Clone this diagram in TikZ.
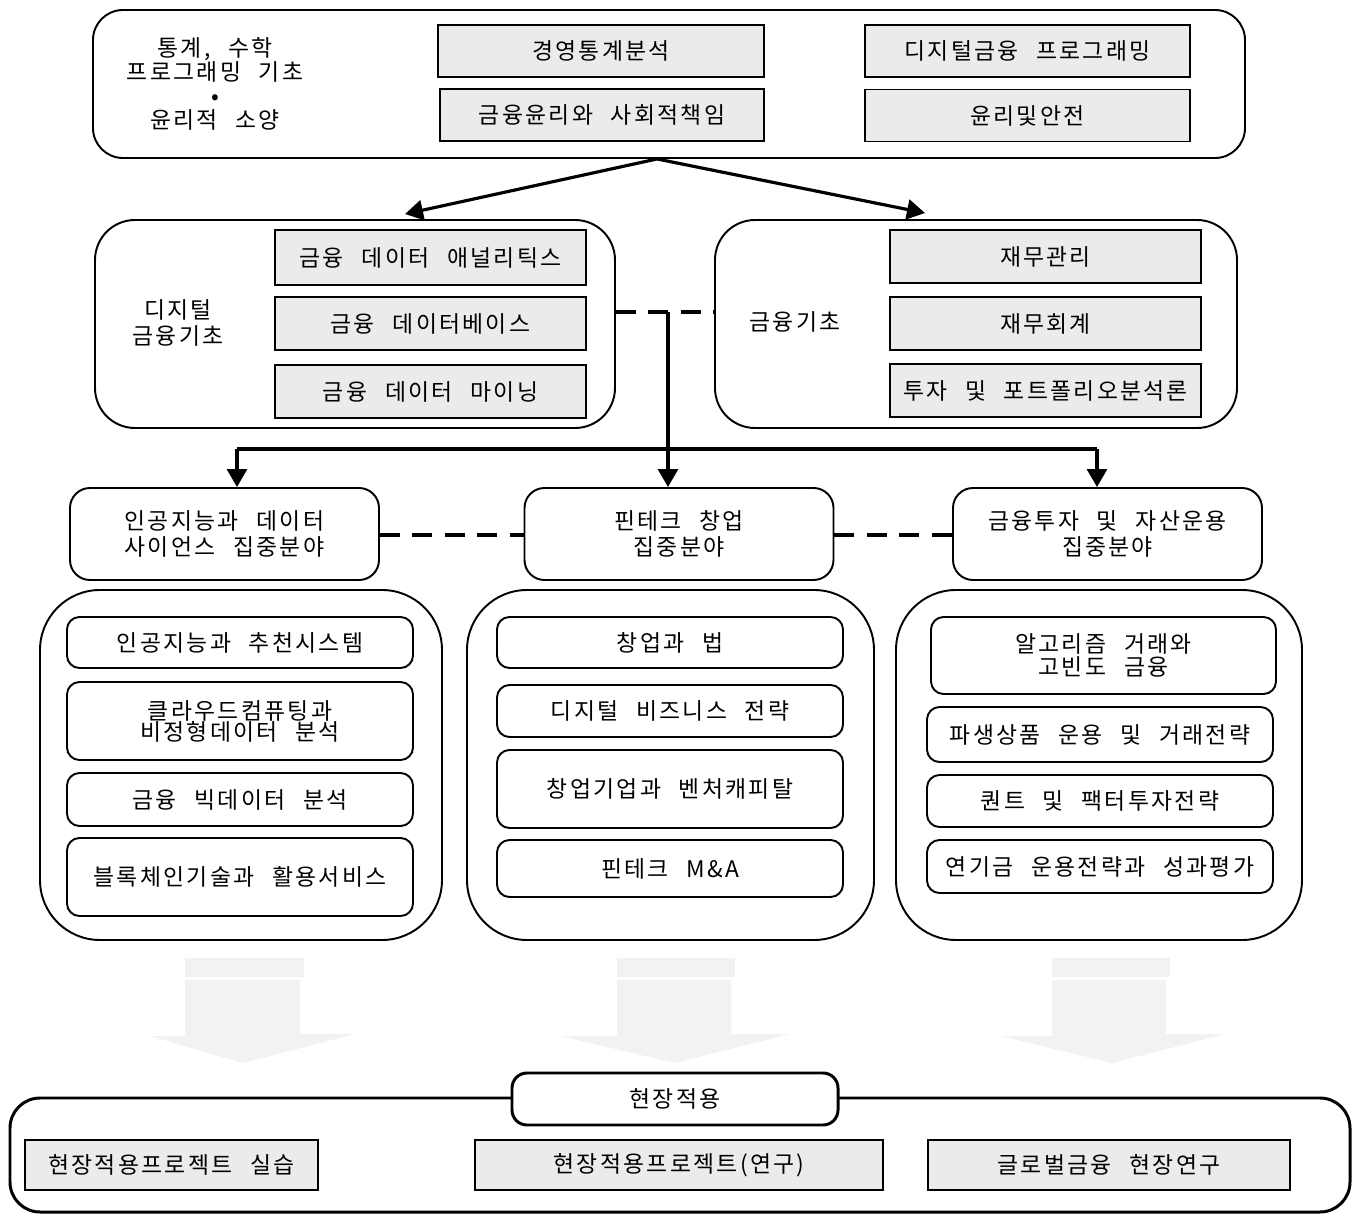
\documentclass[tikz,border=0pt]{standalone}
\usepackage{fontspec}
\setmainfont{Noto Sans CJK KR}[WordSpace=2.4, LetterSpace=10]
\usetikzlibrary{calc, positioning, arrows.meta}

\begin{document}
\begin{tikzpicture}[
    every node/.style={font=\fontsize{13}{14.5}\selectfont, align=center},
    subj/.style={draw, fill=gray!16, line width=1.1pt, minimum height=1.04cm},
    group/.style={draw, rounded corners=0.8cm, line width=1.1pt},
    field/.style={draw, rounded corners=0.4cm, line width=1.1pt, minimum width=6.18cm, minimum height=1.84cm},
    course/.style={draw, rounded corners=0.25cm, line width=1.1pt, minimum width=6.92cm},
    link/.style={line width=1.8pt, -{Triangle[length=0.36cm,width=0.4cm]}},
    tie/.style={line width=1.8pt, dash pattern=on 0.4cm off 0.25cm},
    hint/.style={fill=gray!10}
]
\useasboundingbox (0,0) rectangle (27.18,-24.28);

% basics
\node[group, rounded corners=0.6cm, minimum width=23.04cm, minimum height=2.96cm] (base) at (13.38,-1.68) {};
\node[font=\fontsize{13}{13.6}\selectfont] (basetxt) at (4.3,-1.68) {통계, 수학\\프로그래밍 기초\\•\\윤리적 소양};
\node[subj, minimum width=6.52cm] (stat) at (12.02,-1.02) {경영통계분석};
\node[subj, minimum width=6.48cm] (ethic) at (12.04,-2.30) {금융윤리와 사회적책임};
\node[subj, minimum width=6.5cm] (dprog) at (20.55,-1.02) {디지털금융 프로그래밍};
\node[subj, minimum width=6.5cm] (safe) at (20.55,-2.31) {윤리및안전};

% foundations
\node[group, minimum width=10.4cm, minimum height=4.16cm] (dfin) at (7.1,-6.48) {};
\node (dfintxt) at (3.56,-6.46) {디지털\\금융기초};
\node[subj, minimum width=6.22cm, minimum height=1.1cm] (anal) at (8.61,-5.15) {금융 데이터 애널리틱스};
\node[subj, minimum width=6.22cm, minimum height=1.06cm] (dbase) at (8.61,-6.47) {금융 데이터베이스};
\node[subj, minimum width=6.22cm, minimum height=1.06cm] (mine) at (8.61,-7.83) {금융 데이터 마이닝};

\node[group, minimum width=10.44cm, minimum height=4.16cm] (fin) at (19.52,-6.48) {};
\node (fintxt) at (15.9,-6.44) {금융기초};
\node[subj, minimum width=6.22cm, minimum height=1.06cm] (fmgmt) at (20.91,-5.13) {재무관리};
\node[subj, minimum width=6.22cm, minimum height=1.06cm] (facct) at (20.91,-6.47) {재무회계};
\node[subj, minimum width=6.22cm, minimum height=1.06cm] (port) at (20.91,-7.81) {투자 및 포트폴리오분석론};

\draw[link] ([xshift=-0.24cm]base.south) -- ([xshift=1cm,yshift=0.1cm]dfin.north);
\draw[link] ([xshift=-0.24cm]base.south) -- ([xshift=-1.02cm,yshift=0.12cm]fin.north);

% fields
\node[field] (aif) at (4.49,-10.68) {인공지능과 데이터\\사이언스 집중분야};
\node[field] (fint) at (13.58,-10.68) {핀테크 창업\\집중분야};
\node[field] (invf) at (22.15,-10.68) {금융투자 및 자산운용\\집중분야};

\coordinate (hub) at (13.36,-6.24);
\coordinate (busl) at (4.74,-8.98);
\coordinate (busr) at (21.94,-8.98);
\draw[tie] (dfin.east |- hub) -- (fin.west |- hub);
\draw[line width=1.8pt] (busl) -- (busr);
\draw[link] (hub) -- (hub |- fint.north);
\draw[link] (busl) -- (busl |- aif.north);
\draw[link] (busr) -- (busr |- invf.north);
\draw[tie] ([yshift=-0.02cm]aif.east) -- ([yshift=-0.02cm]fint.west);
\draw[tie] ([yshift=-0.02cm]fint.east) -- ([yshift=-0.02cm]invf.west);

% courses
\node[group, rounded corners=1.2cm, minimum width=8.04cm, minimum height=7cm] (aigrp) at (4.82,-15.3) {};
\node[group, rounded corners=1.2cm, minimum width=8.14cm, minimum height=7cm] (fingrp) at (13.41,-15.3) {};
\node[group, rounded corners=1.2cm, minimum width=8.12cm, minimum height=7cm] (invgrp) at (21.98,-15.3) {};

\node[course, minimum height=1.02cm] (rec) at (4.8,-12.85) {인공지능과 추천시스템};
\node[course, minimum height=1.56cm, font=\fontsize{13}{12}\selectfont] (cloud) at (4.8,-14.42) {클라우드컴퓨팅과\\비정형데이터 분석};
\node[course, minimum height=1.06cm] (bigd) at (4.8,-15.99) {금융 빅데이터 분석};
\node[course, minimum height=1.56cm] (chain) at (4.8,-17.54) {블록체인기술과 활용서비스};

\node[course, minimum height=1.02cm] (law) at (13.4,-12.85) {창업과 법};
\node[course, minimum height=1.04cm] (dbiz) at (13.4,-14.22) {디지털 비즈니스 전략};
\node[course, minimum height=1.56cm] (vc) at (13.4,-15.78) {창업기업과 벤처캐피탈};
\node[course, minimum height=1.14cm] (mna) at (13.4,-17.37) {핀테크 M\&A};

\node[course, minimum width=6.9cm, minimum height=1.54cm, font=\fontsize{13}{11}\selectfont] (algo) at (22.07,-13.11) {알고리즘 거래와\\고빈도 금융};
\node[course, minimum height=1.1cm] (deriv) at (22.0,-14.69) {파생상품 운용 및 거래전략};
\node[course, minimum height=1.04cm] (quant) at (22.0,-16.02) {퀀트 및 팩터투자전략};
\node[course, minimum height=1.06cm] (pens) at (22.0,-17.33) {연기금 운용전략과 성과평가};

% block arrows
\foreach \a/\b/\c/\d/\e/\t in {3.7/6.08/6.0/3.0/7.1/4.86, 12.34/14.7/14.62/11.2/15.8/13.5, 21.04/23.4/23.32/20.0/24.5/22.24}{
    \fill[hint] (\a,-19.16) rectangle (\b,-19.54);
    \fill[hint] (\a,-19.6) -- (\c,-19.6) -- (\c,-20.68) -- (\e,-20.68) -- (\t,-21.26) -- (\d,-20.72) -- (\a,-20.72) -- cycle;
}

% field application
\node[draw, rounded corners=0.6cm, line width=1.7pt, minimum width=26.8cm, minimum height=2.28cm] (apply) at (13.6,-23.1) {};
\node[draw, fill=white, rounded corners=0.3cm, line width=1.7pt, minimum width=6.52cm, minimum height=1.04cm] (applytxt) at (13.5,-21.98) {현장적용};
\node[subj, minimum width=5.86cm, minimum height=1cm] (prac) at (3.43,-23.3) {현장적용프로젝트 실습};
\node[subj, minimum width=8.16cm, minimum height=1cm] (res) at (13.58,-23.3) {현장적용프로젝트(연구)};
\node[subj, minimum width=7.24cm, minimum height=1cm] (glob) at (22.18,-23.3) {글로벌금융 현장연구};
\end{tikzpicture}
\end{document}
